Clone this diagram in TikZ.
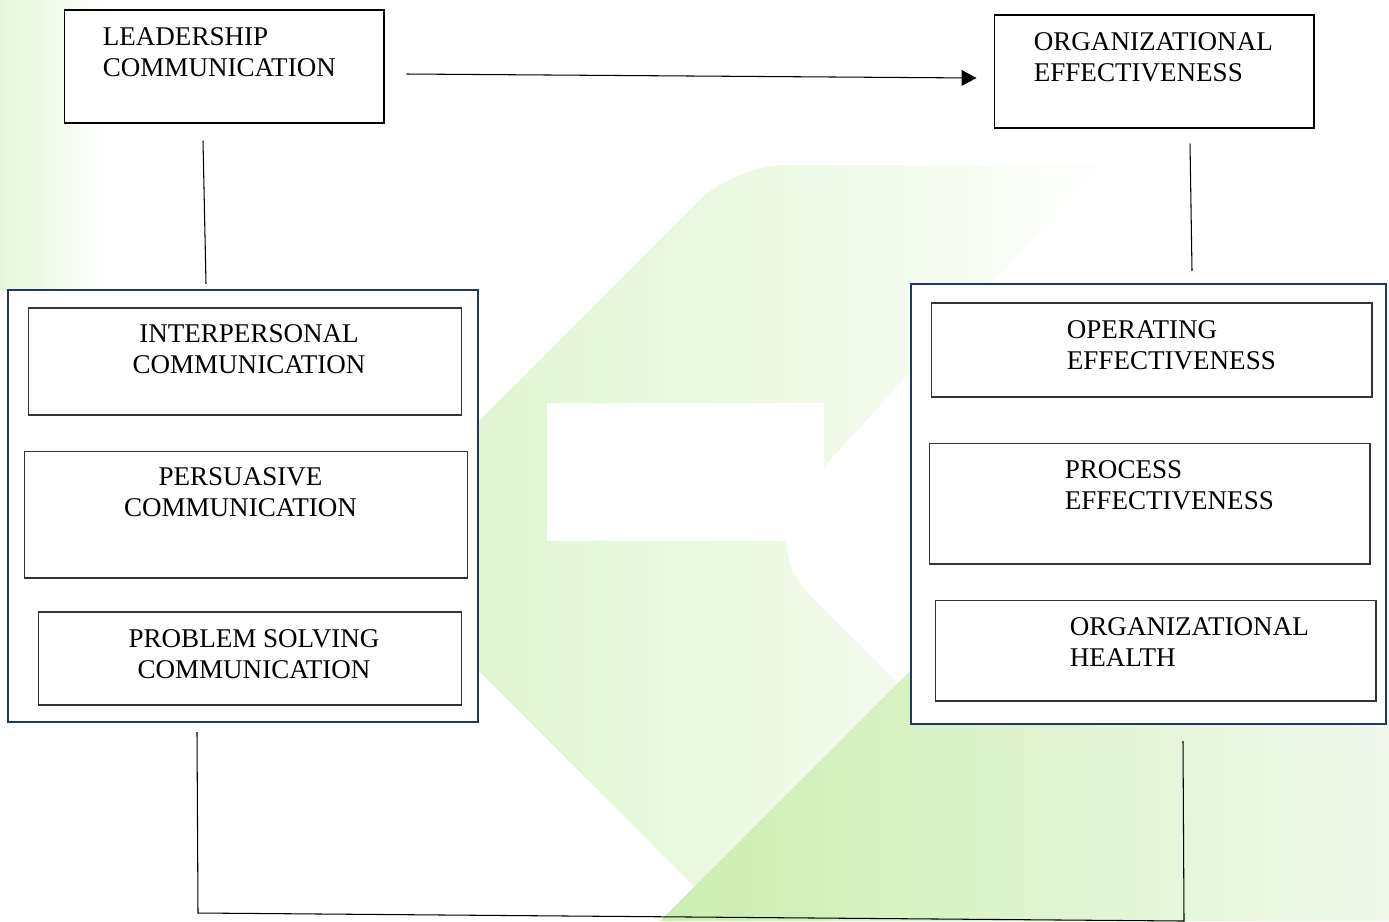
\documentclass[tikz,border=0pt]{standalone}
\usepackage{fontspec}
\setmainfont{Liberation Serif}
\usepackage{xcolor}
\usetikzlibrary{arrows.meta,calc,positioning,shapes.geometric}
\definecolor{NavyFrame}{RGB}{31,56,100}
\definecolor{LeafGreen}{RGB}{204,238,176}
\definecolor{PaleGreen}{RGB}{218,243,200}
\definecolor{EdgeGreen}{RGB}{230,246,220}
\definecolor{MistGreen}{RGB}{240,249,236}
\tikzset{
  tbox/.style={draw=black,fill=white,line width=0.6pt,inner sep=0pt,
               minimum width=6.4cm,minimum height=2.26cm},
  gbox/.style={draw=NavyFrame,fill=white,line width=1.4pt,inner sep=0pt},
  ibox/.style={draw=black!80,fill=white,line width=0.6pt,inner sep=0pt},
  lbl/.style={inner sep=0pt,font=\fontsize{15.4}{17.7}\selectfont},
  arr/.style={-{Triangle[length=8.5pt,width=9pt]},line width=0.6pt,black},
  link/.style={line width=0.6pt,black},
}
\begin{document}
\begin{tikzpicture}[x=0.02cm,y=-0.02cm]
  \useasboundingbox (0,0) rectangle (1389,921);
  \fill[white] (0,0) rectangle (1389,921);

  % backdrop
  \shade[left color=EdgeGreen,right color=white] (0,0) rectangle (110,290);
  \shade[left color=PaleGreen,right color=white]
    (354,546) [rounded corners=1cm] -- (735,165) [sharp corners] -- (1100,165)
    [rounded corners=1.5cm] -- (756,541) [sharp corners] -- (1136,921)
    -- (729,921) -- cycle;
  \fill[white] (547,403) rectangle (824,541);
  \shade[left color=LeafGreen,right color=MistGreen]
    (660,921) -- (1296,285) -- (1389,285) -- (1389,921) -- cycle;

  % top boxes
  \node[tbox] (lead) at (224,66.5) {};
  \node[tbox] (orgeff) at (1154,71.5) {};
  \node[lbl,anchor=north west,align=left] (lead-t)
    at ([shift={(39,18)}]lead.north west) {LEADERSHIP\\COMMUNICATION};
  \node[lbl,anchor=north west,align=left] (orgeff-t)
    at ([shift={(40,18)}]orgeff.north west) {ORGANIZATIONAL\\EFFECTIVENESS};

  % left group
  \node[gbox,minimum width=9.4cm,minimum height=8.64cm] (comgrp) at (243,506) {};
  \node[ibox,minimum width=8.68cm,minimum height=2.14cm] (inter) at (245,361.5) {};
  \node[ibox,minimum width=8.88cm,minimum height=2.54cm] (pers) at (246,514.5) {};
  \node[ibox,minimum width=8.48cm,minimum height=1.86cm] (prob) at (250,658.5) {};
  \node[lbl,anchor=north,align=center] (inter-t)
    at ([shift={(4,17)}]inter.north) {INTERPERSONAL\\COMMUNICATION};
  \node[lbl,anchor=north,align=center] (pers-t)
    at ([shift={(-5.5,17)}]pers.north) {PERSUASIVE\\COMMUNICATION};
  \node[lbl,anchor=north,align=center] (prob-t)
    at ([shift={(4,18)}]prob.north) {PROBLEM SOLVING\\COMMUNICATION};

  % right group
  \node[gbox,minimum width=9.5cm,minimum height=8.8cm] (effgrp) at (1148.5,504) {};
  \node[ibox,minimum width=8.82cm,minimum height=1.88cm] (oper) at (1151.5,350) {};
  \node[ibox,minimum width=8.82cm,minimum height=2.42cm] (proc) at (1149.5,503.5) {};
  \node[ibox,minimum width=8.82cm,minimum height=2.02cm] (health) at (1155.5,650.5) {};
  \node[lbl,anchor=north west,align=left] (oper-t)
    at ([shift={(136,18)}]oper.north west) {OPERATING\\EFFECTIVENESS};
  \node[lbl,anchor=north west,align=left] (proc-t)
    at ([shift={(136,18)}]proc.north west) {PROCESS\\EFFECTIVENESS};
  \node[lbl,anchor=north west,align=left] (health-t)
    at ([shift={(135,18)}]health.north west) {ORGANIZATIONAL\\HEALTH};

  % connectors
  \coordinate (botl) at (198,913);
  \coordinate (botr) at (1184,921);
  \draw[arr] ($(lead.east)+(22,7.5)$) -- ($(orgeff.west)+(-17,6.5)$);
  \draw[link] ($(lead.south)+(-21,17)$) -- ($(comgrp.north)+(-37,-5)$);
  \draw[link] ($(orgeff.south)+(36,15)$) -- ($(effgrp.north)+(43.5,-12)$);
  \draw[link] ($(comgrp.south)+(-46,9)$) -- (botl) -- (botr)
    -- ($(effgrp.south)+(34.5,16)$);
\end{tikzpicture}
\end{document}
